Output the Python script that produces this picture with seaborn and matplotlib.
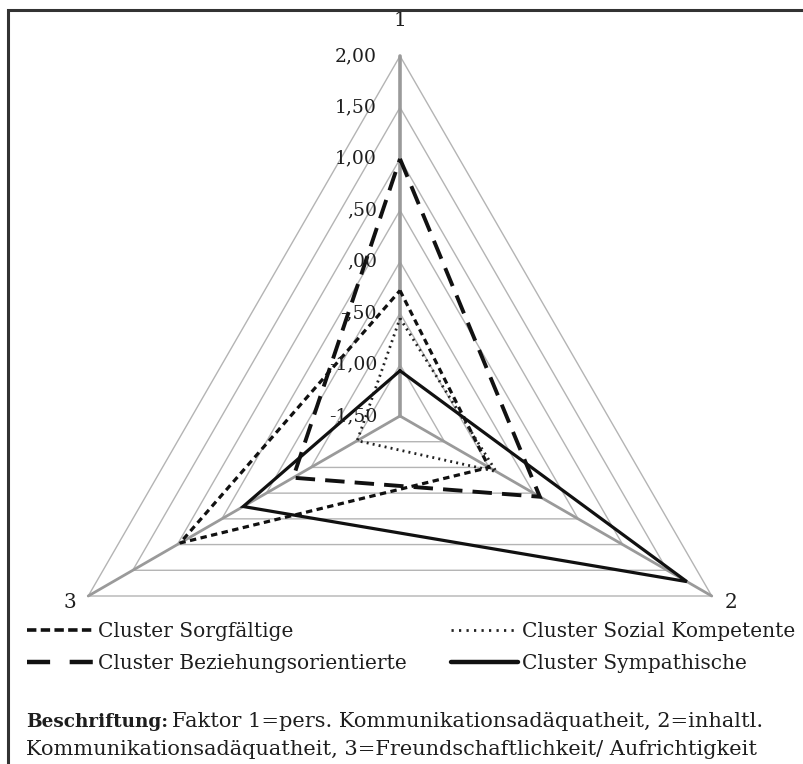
import numpy as np
import pandas as pd
import matplotlib
matplotlib.use("Agg")
import matplotlib.pyplot as plt
from matplotlib.lines import Line2D
from matplotlib.patches import Rectangle
import seaborn as sns

sns.set_theme(style="white")
plt.rcParams['font.family'] = ['DejaVu Serif']

# ---- data ----
axes_labels = ["1", "2", "3"]
clusters = ["Cluster Sorgfältige", "Cluster Sozial Kompetente",
            "Cluster Beziehungsorientierte", "Cluster Sympathische"]
sorgfaeltige = [-0.28, -0.50, 0.97]
sozial_kompetente = [-0.55, -0.42, -1.02]
beziehungsorientierte = [1.00, 0.07, -0.30]
sympathische = [-1.06, 1.72, 0.26]
scale_ticks = [-1.5, -1.0, -0.5, 0.0, 0.5, 1.0, 1.5, 2.0]
tick_labels = ["-1,50", "-1,00", "-,50", ",00", ",50", "1,00", "1,50", "2,00"]
vmin, vmax = -1.5, 2.0

series = [sorgfaeltige, sozial_kompetente, beziehungsorientierte, sympathische]
# chart styles (dash pattern in multiples of line width)
styles = [
    dict(color="#111111", lw=2.3, dashes=(2.0, 1.4)),
    dict(color="#222222", lw=2.0, dashes=(0.7, 1.5)),
    dict(color="#111111", lw=2.8, dashes=(5.0, 2.6)),
    dict(color="#111111", lw=2.3, dashes=None),
]
# legend handle styles
leg_styles = [
    dict(color="#111111", lw=2.6, dashes=(2.6, 1.2)),
    dict(color="#222222", lw=2.0, dashes=(0.8, 1.9)),
    dict(color="#111111", lw=3.2, dashes=(5.2, 4.4)),
    dict(color="#111111", lw=3.2, dashes=None),
]

angles = np.deg2rad([90, -30, 210])


def to_xy(vals):
    r = (np.asarray(vals, float) - vmin) / (vmax - vmin)
    return r * np.cos(angles), r * np.sin(angles)


W, H = 804, 764
CX, CY, R = 400, 416, 360
fig = plt.figure(figsize=(W / 100, H / 100), dpi=100)
ax = fig.add_axes([0, 0, 1, 1])
ax.set_xlim(-CX / R, (W - CX) / R)
ax.set_ylim(-(H - CY) / R, CY / R)
ax.axis("off")

# grid triangles
for t in scale_ticks[1:]:
    gx, gy = to_xy([t, t, t])
    ax.plot(np.append(gx, gx[0]), np.append(gy, gy[0]), color="#b4b4b4", lw=1.0, zorder=1)
# spokes
for a, lw in zip(angles, [2.6, 2.0, 2.0]):
    ax.plot([0, np.cos(a)], [0, np.sin(a)], color="#9a9a9a", lw=lw, zorder=2)

# series
for name, vals, st in zip(clusters, series, styles):
    x, y = to_xy(vals)
    df = pd.DataFrame({"x": np.append(x, x[0]), "y": np.append(y, y[0])})
    sns.lineplot(data=df, x="x", y="y", sort=False, estimator=None, ax=ax,
                 color=st["color"], lw=st["lw"], zorder=5)
    ln = ax.lines[-1]
    if st["dashes"] is not None:
        ln.set_dashes(st["dashes"])
    ln.set_solid_joinstyle("miter")
    ln.set_dash_joinstyle("miter")

TXT = "#1e1e1e"
# scale labels
for t, lab in zip(scale_ticks, tick_labels):
    r = (t - vmin) / (vmax - vmin)
    ax.text(-23 / R, r, lab, ha="right", va="center", fontsize=13.5, color=TXT, zorder=6)

# axis labels
ax.text(0, (CY - 21) / R, axes_labels[0], ha="center", va="center", fontsize=14.5, color=TXT)
ax.text((731 - CX) / R, -(602 - CY) / R, axes_labels[1], ha="center", va="center", fontsize=14.5, color=TXT)
ax.text((70 - CX) / R, -(602 - CY) / R, axes_labels[2], ha="center", va="center", fontsize=14.5, color=TXT)

# legend
handles = []
for st in leg_styles:
    h = Line2D([0], [0], color=st["color"], lw=st["lw"])
    if st["dashes"] is not None:
        h.set_dashes(st["dashes"])
    handles.append(h)
order = [0, 2, 1, 3]
FS = 14.5
fpx = FS * 100 / 72
leg = ax.legend([handles[i] for i in order], [clusters[i] for i in order], ncol=2,
                loc="upper left", bbox_to_anchor=(27 / W, 1 - 622 / H),
                bbox_transform=fig.transFigure, frameon=False, fontsize=FS,
                handlelength=67 / fpx, handletextpad=4 / fpx, columnspacing=2.2,
                labelspacing=0.63, borderpad=0, borderaxespad=0)
for txt in leg.get_texts():
    txt.set_color(TXT)

# caption
t1 = fig.text(26 / W, 1 - 727 / H, "Beschriftung:", fontsize=13.3, fontweight="bold",
              ha="left", va="baseline", color=TXT)
fig.canvas.draw()
bb = t1.get_window_extent()
fig.text((bb.x1 + 4) / W, 1 - 727 / H,
         "Faktor 1=pers. Kommunikationsadäquatheit, 2=inhaltl.",
         fontsize=15, ha="left", va="baseline", color=TXT)
fig.text(26 / W, 1 - 755 / H,
         "Kommunikationsadäquatheit, 3=Freundschaftlichkeit/ Aufrichtigkeit",
         fontsize=15, ha="left", va="baseline", color=TXT)

# frame
fig.patches.append(Rectangle((8 / W, -0.05), 1.05, 1 - 10 / H + 0.05,
                             transform=fig.transFigure, fill=False,
                             ec="#333333", lw=2.2, zorder=0))

fig.savefig("out.png", dpi=100)
